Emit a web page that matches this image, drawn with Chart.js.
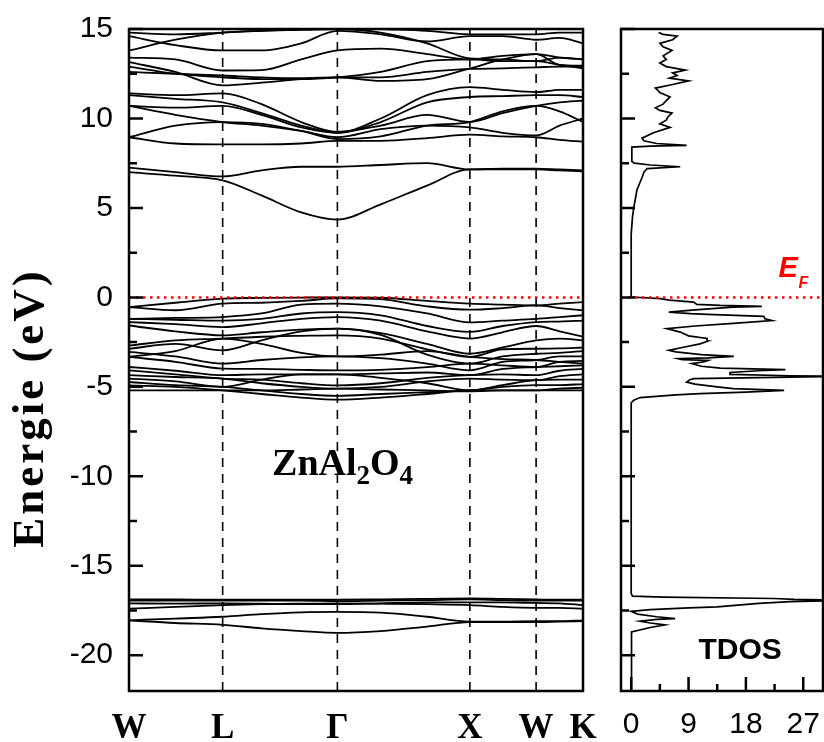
<!DOCTYPE html>
<html>
<head>
<meta charset="utf-8">
<script src="https://cdn.jsdelivr.net/npm/chart.js@4.4.1/dist/chart.umd.min.js"></script>
<style>
  body { margin: 0; background: #fff; }
  #wrap { position: relative; width: 824px; height: 742px; }
  canvas { position: absolute; top: 0; }
</style>
</head>
<body>
<div id="wrap">
  <canvas id="bands" width="600" height="742" style="left:0"></canvas>
  <canvas id="dos" width="224" height="742" style="left:600px"></canvas>
</div>
<script>
// k-path (units of 2pi/a) and high-symmetry points
const kPath = [0, 0.35, 0.707, 1.0, 1.3, 1.573, 1.9, 2.25, 2.573, 2.82, 3.073, 3.25, 3.427];
const kTicks = [0, 0.707, 1.573, 2.573, 3.073, 3.427];
const kLabels = ['W', 'L', 'Γ', 'X', 'W', 'K'];
const energyTicks = [-20, -15, -10, -5, 0, 5, 10, 15];
const dosTicks = [0, 9, 18, 27];

// band energies (eV) at each kPath point: W . L . . G . . X . W . K
const bandsLow = [
  [-18.05, -18.2, -18.3, -18.5, -18.65, -18.75, -18.65, -18.4, -18.15, -18.15, -18.15, -18.12, -18.1],
  [-18.05, -17.95, -17.85, -17.7, -17.6, -17.58, -17.62, -17.85, -18.12, -18.12, -18.1, -18.1, -18.05],
  [-17.4, -17.3, -17.2, -17.15, -17.12, -17.1, -17.12, -17.15, -17.2, -17.3, -17.35, -17.35, -17.4],
  [-17.1, -17.12, -17.1, -17.12, -17.15, -17.15, -17.1, -17.05, -17.05, -17.05, -17.08, -17.1, -17.2],
  [-16.95, -16.95, -16.95, -16.95, -16.95, -16.98, -16.95, -16.92, -16.88, -16.92, -16.95, -16.95, -16.95],
  [-16.88, -16.88, -16.9, -16.9, -16.9, -16.9, -16.88, -16.85, -16.82, -16.85, -16.88, -16.9, -16.9]
];
const bandsValence = [
  [-0.54, -0.3, -0.07, -0.03, -0.01, 0.0, -0.02, -0.2, -0.35, -0.4, -0.45, -0.35, -0.26],
  [-0.54, -0.72, -0.35, -0.3, -0.2, -0.05, -0.1, -0.5, -0.69, -0.6, -0.45, -0.6, -0.73],
  [-1.2, -1.15, -1.1, -0.9, -0.4, -0.35, -0.5, -0.9, -1.4, -1.3, -1.2, -1.1, -1.0],
  [-1.2, -1.25, -1.3, -1.2, -0.9, -0.82, -1.0, -1.6, -1.93, -1.6, -1.38, -1.35, -1.3],
  [-1.38, -1.5, -1.66, -1.45, -1.2, -1.1, -1.3, -1.9, -2.3, -1.95, -1.6, -1.9, -2.2],
  [-1.57, -1.9, -2.12, -1.95, -1.8, -1.75, -2.0, -2.6, -3.15, -2.8, -2.4, -2.3, -2.4],
  [-2.7, -2.4, -2.3, -2.2, -2.15, -2.12, -2.3, -2.9, -3.33, -2.9, -2.87, -2.85, -2.8],
  [-2.87, -2.6, -2.96, -2.4, -1.9, -1.75, -2.1, -3.2, -3.7, -3.3, -3.15, -3.1, -3.0],
  [-3.05, -3.3, -3.7, -3.5, -3.35, -3.3, -3.4, -3.7, -4.08, -3.6, -3.5, -3.3, -3.3],
  [-3.33, -3.6, -3.98, -4.0, -4.05, -4.08, -4.05, -3.9, -3.7, -3.8, -3.89, -3.6, -3.55],
  [-3.89, -4.1, -4.35, -4.3, -4.3, -4.3, -4.25, -4.2, -4.35, -4.0, -3.89, -3.85, -3.8],
  [-4.08, -4.3, -4.54, -4.6, -4.8, -4.92, -4.8, -4.5, -4.35, -4.3, -4.35, -4.1, -4.0],
  [-4.35, -4.45, -4.54, -4.8, -5.0, -5.1, -5.0, -4.7, -4.54, -4.6, -4.63, -4.4, -4.3],
  [-4.54, -4.7, -5.0, -4.6, -4.3, -4.3, -4.5, -4.8, -5.2, -4.9, -4.63, -4.6, -4.6],
  [-4.73, -4.9, -5.0, -5.2, -5.4, -5.5, -5.4, -5.3, -5.2, -5.0, -4.9, -4.9, -4.85],
  [-4.92, -5.0, -5.2, -5.4, -5.6, -5.72, -5.6, -5.4, -5.2, -5.2, -5.2, -5.1, -5.05],
  [-5.2, -5.2, -5.2, -5.2, -5.15, -5.1, -5.15, -5.2, -5.25, -5.2, -5.2, -5.2, -5.2],
  [-3.33, -3.0, -2.3, -2.6, -3.1, -3.3, -3.2, -3.0, -3.33, -3.45, -3.5, -3.6, -3.7]
];
const bandsConduction = [
  [7.0, 6.8, 6.54, 5.7, 4.75, 4.35, 5.2, 6.25, 7.15, 7.15, 7.15, 7.1, 7.05],
  [7.25, 7.0, 6.76, 7.1, 7.3, 7.3, 7.4, 7.5, 7.15, 7.2, 7.2, 7.15, 7.1],
  [8.95, 8.6, 8.55, 8.55, 8.6, 8.75, 8.75, 8.9, 9.1, 9.0, 8.95, 8.8, 8.7],
  [8.95, 9.6, 9.8, 9.7, 9.3, 8.85, 9.0, 9.6, 9.8, 10.4, 10.7, 10.4, 9.8],
  [10.7, 10.2, 9.8, 9.6, 9.3, 8.95, 9.4, 9.6, 9.5, 9.2, 9.05, 9.6, 10.0],
  [10.7, 10.6, 10.7, 10.2, 9.5, 9.2, 10.0, 11.3, 11.75, 11.6, 11.47, 11.6, 11.6],
  [11.3, 11.1, 10.9, 10.3, 9.6, 9.2, 9.8, 10.9, 11.2, 11.25, 11.3, 11.3, 11.2],
  [11.4, 11.3, 11.4, 10.8, 9.8, 9.25, 9.6, 10.2, 9.8, 10.3, 10.7, 10.9, 11.0],
  [12.6, 12.5, 12.4, 12.3, 12.25, 12.3, 12.3, 12.6, 12.77, 12.8, 12.86, 12.9, 12.9],
  [12.9, 12.5, 12.3, 12.2, 12.2, 12.3, 12.6, 13.2, 13.3, 13.2, 13.2, 13.0, 12.8],
  [13.15, 12.6, 11.85, 12.0, 12.2, 12.3, 12.1, 12.2, 12.8, 13.3, 13.6, 13.0, 12.95],
  [13.4, 13.3, 12.68, 12.7, 13.3, 13.8, 13.9, 13.6, 13.3, 13.5, 13.6, 13.4, 13.3],
  [13.8, 14.4, 14.8, 14.9, 14.95, 15.0, 14.8, 14.2, 13.35, 13.3, 13.2, 13.4, 13.3],
  [14.6, 14.1, 13.8, 13.8, 14.2, 14.9, 14.7, 14.3, 14.6, 14.6, 14.4, 14.5, 14.2],
  [14.8, 14.7, 14.8, 14.9, 15.0, 15.1, 15.0, 14.9, 14.7, 14.7, 14.7, 14.8, 14.8]
];

// total density of states: energy (eV) and value (states/eV)
const tdosEnergy = [-22, -18.9, -18.7, -18.45, -18.3, -18.2, -18.1, -18.0, -17.95, -17.85, -17.7, -17.55,
  -17.45, -17.35, -17.3, -17.1, -17.0, -16.93, -16.88, -16.83, -16.75, -16.7, -16.56,
  -5.9, -5.75, -5.6, -5.45, -5.38, -5.3, -5.2, -5.1, -5.0, -4.85, -4.73, -4.6, -4.54, -4.48, -4.42, -4.38,
  -4.3, -4.2, -4.1, -4.04, -3.95, -3.85, -3.7, -3.6, -3.52, -3.48, -3.43, -3.38, -3.3, -3.2, -3.05, -2.96,
  -2.8, -2.6, -2.45, -2.3, -2.15, -1.94, -1.75, -1.6, -1.45, -1.3, -1.2, -1.06, -0.95, -0.91, -0.82, -0.7,
  -0.55, -0.5, -0.45, -0.39, -0.26, -0.15, -0.07, 0.02, 3.5, 4.5, 5.0, 6.0, 6.7, 7.0, 7.2, 7.3, 7.4, 7.5,
  7.6, 8.4, 8.45, 8.5, 8.6, 8.75, 8.9, 9.2, 9.5, 9.7, 9.9, 10.1, 10.3, 10.45, 10.6, 10.8, 11.0, 11.2,
  11.45, 11.7, 11.9, 12.1, 12.25, 12.4, 12.55, 12.7, 12.9, 13.1, 13.3, 13.5, 13.8, 14.0, 14.2, 14.4,
  14.6, 14.7, 14.8];
const tdosValue = [0, 0, 0.1, 3, 5.3, 3, 1.4, 4, 6.9, 4, 1, 0,
  3, 9, 13.5, 20, 25, 34, 25.6, 22.4, 5, 0.2, 0,
  0, 0.4, 1.4, 7, 10.8, 18, 24.0, 16, 13.5, 10, 8.7, 9.2, 9.8, 20, 34, 25,
  15.5, 15.5, 20, 24.2, 14, 11, 9.5, 11.5, 12.1, 8, 7.4, 12, 16.1, 11, 7, 5.9,
  8, 10.8, 12, 11.9, 9, 7.7, 5.6, 10, 16, 22.1, 21, 20.8, 12, 9.3, 5.9, 10,
  16, 20.5, 14, 10.3, 9.8, 6, 4.6, 0, 0, 0.2, 0.4, 0.9, 1.7, 2.0, 2.5, 7.7, 3, 0.5,
  0.1, 0.1, 3, 8.7, 4, 2.0, 1.7, 3.5, 6.1, 4.5, 5.5, 5.8, 6.4, 4.5, 3.8, 5, 5.5, 6.1,
  4.5, 3.8, 6.5, 9.0, 6, 7.2, 6.5, 8.5, 5.5, 4.5, 5.5, 5, 6.4, 5, 4.5, 6.5,
  7.2, 5, 4.3];

const E_MIN = -22, E_MAX = 15;
const K_MAX = kPath[kPath.length - 1];

function lineSet(points, color, width, dash) {
  return {
    data: points, showLine: true, borderColor: color, borderWidth: width,
    borderDash: dash || [], pointRadius: 0, fill: false, borderCapStyle: 'butt'
  };
}

// keep the plot area where layout padding puts it
function noEdgePad(s) {
  s.paddingLeft = 0; s.paddingRight = 0; s.paddingTop = 0; s.paddingBottom = 0;
}

// frame + inward ticks + annotations
const framePlugin = {
  id: 'frame',
  afterDraw(chart) {
    const ctx = chart.ctx;
    const a = chart.chartArea;
    const ys = chart.scales.y, xs = chart.scales.x;
    ctx.save();
    ctx.strokeStyle = '#000';
    ctx.lineWidth = 2.5;
    ctx.strokeRect(a.left, a.top, a.right - a.left, a.bottom - a.top);
    ctx.beginPath();
    for (let v = -20; v <= 15; v += 2.5) {
      const py = ys.getPixelForValue(v);
      const len = (v % 5 === 0) ? 14 : 8;
      ctx.moveTo(a.left, py);
      ctx.lineTo(a.left + len, py);
    }
    ctx.stroke();
    const opt = chart.options.plugins.frame;
    if (opt.kind === 'dos') {
      ctx.beginPath();
      for (let v = 0; v <= 27; v += 4.5) {
        const px = xs.getPixelForValue(v);
        const len = (v % 9 === 0) ? 14 : 7;
        ctx.moveTo(px, a.bottom);
        ctx.lineTo(px, a.bottom - len);
      }
      ctx.stroke();
      ctx.fillStyle = '#000';
      ctx.font = 'bold 30px "Liberation Sans", Arial, sans-serif';
      ctx.textAlign = 'center';
      ctx.textBaseline = 'alphabetic';
      ctx.fillText('TDOS', xs.getPixelForValue(17.1), ys.getPixelForValue(-20.2));
      ctx.fillStyle = '#ff0000';
      ctx.textAlign = 'left';
      ctx.font = 'italic bold 29px "Liberation Sans", Arial, sans-serif';
      const ex = xs.getPixelForValue(23.1), ey = ys.getPixelForValue(1.15);
      ctx.fillText('E', ex, ey);
      ctx.font = 'italic bold 16px "Liberation Sans", Arial, sans-serif';
      ctx.fillText('F', ex + 20, ey + 11);
    } else {
      ctx.fillStyle = '#000';
      ctx.textBaseline = 'alphabetic';
      ctx.textAlign = 'left';
      let x = xs.getPixelForValue(1.08);
      const y = ys.getPixelForValue(-9.9);
      const parts = [['ZnAl', 38, 0], ['2', 27, 9], ['O', 38, 0], ['4', 27, 9]];
      parts.forEach(p => {
        ctx.font = 'bold ' + p[1] + 'px "Liberation Serif", "Times New Roman", serif';
        ctx.fillText(p[0], x, y + p[2]);
        x += ctx.measureText(p[0]).width;
      });
      // axis title
      ctx.save();
      ctx.translate(31, 408);
      ctx.rotate(-Math.PI / 2);
      ctx.textAlign = 'center';
      ctx.textBaseline = 'middle';
      ctx.letterSpacing = '3px';
      ctx.font = 'bold 45px "Liberation Serif", "Times New Roman", serif';
      ctx.fillText('Energie (eV)', 0, 0);
      ctx.restore();
    }
    ctx.restore();
  }
};

// ---- band structure panel ----
const bandDatasets = [];
bandDatasets.push(lineSet([{ x: 0, y: 0 }, { x: K_MAX, y: 0 }], '#ff0000', 2.5, [2.5, 4.5]));
[bandsLow, bandsValence, bandsConduction].forEach(group => {
  group.forEach(b => {
    const ds = lineSet(kPath.map((k, i) => ({ x: k, y: b[i] })), '#000', 1.8);
    ds.cubicInterpolationMode = 'monotone';
    bandDatasets.push(ds);
  });
});
kTicks.slice(1, -1).forEach(k => {
  bandDatasets.push(lineSet([{ x: k, y: E_MIN }, { x: k, y: E_MAX }], '#000', 1.6, [9, 7]));
});

new Chart(document.getElementById('bands'), {
  type: 'scatter',
  data: { datasets: bandDatasets },
  options: {
    responsive: false, animation: false, devicePixelRatio: 1,
    layout: { padding: { top: 29, right: 17, left: 0, bottom: 0 } },
    plugins: { legend: { display: false }, tooltip: { enabled: false }, frame: { kind: 'bands' } },
    scales: {
      x: {
        type: 'linear', min: 0, max: K_MAX,
        afterBuildTicks: s => { s.ticks = kTicks.map(v => ({ value: v })); },
        afterFit: s => { s.height = 51; noEdgePad(s); },
        grid: { display: false, drawTicks: false },
        border: { display: false },
        ticks: {
          autoSkip: false, maxRotation: 0, padding: 17, color: '#000',
          font: { family: '"Liberation Serif", "Times New Roman", serif', size: 35, weight: 'bold' },
          callback: (v, i) => kLabels[i]
        }
      },
      y: {
        type: 'linear', min: E_MIN, max: E_MAX,
        afterBuildTicks: s => { s.ticks = energyTicks.map(v => ({ value: v })); },
        afterFit: s => { s.width = 129; noEdgePad(s); },
        grid: { display: false, drawTicks: false },
        border: { display: false },
        ticks: {
          padding: 16, color: '#000',
          font: { family: '"Liberation Sans", Arial, sans-serif', size: 30 }
        }
      }
    }
  },
  plugins: [framePlugin]
});

// ---- TDOS panel ----
const dosDatasets = [
  lineSet([{ x: -1.6, y: 0 }, { x: 30.1, y: 0 }], '#ff0000', 2.5, [2.5, 4.5]),
  lineSet(tdosEnergy.map((e, i) => ({ x: tdosValue[i], y: e })), '#000', 1.7)
];

new Chart(document.getElementById('dos'), {
  type: 'scatter',
  data: { datasets: dosDatasets },
  options: {
    responsive: false, animation: false, devicePixelRatio: 1,
    layout: { padding: { top: 29, right: 1, left: 0, bottom: 0 } },
    plugins: { legend: { display: false }, tooltip: { enabled: false }, frame: { kind: 'dos' } },
    scales: {
      x: {
        type: 'linear', min: -1.6, max: 30.1,
        afterBuildTicks: s => { s.ticks = dosTicks.map(v => ({ value: v })); },
        afterFit: s => { s.height = 51; noEdgePad(s); },
        grid: { display: false, drawTicks: false },
        border: { display: false },
        ticks: {
          autoSkip: false, maxRotation: 0, padding: 16, color: '#000',
          font: { family: '"Liberation Sans", Arial, sans-serif', size: 30 }
        }
      },
      y: {
        type: 'linear', min: E_MIN, max: E_MAX,
        afterFit: s => { s.width = 21; noEdgePad(s); },
        grid: { display: false, drawTicks: false },
        border: { display: false },
        ticks: { display: false }
      }
    }
  },
  plugins: [framePlugin]
});
</script>
</body>
</html>
